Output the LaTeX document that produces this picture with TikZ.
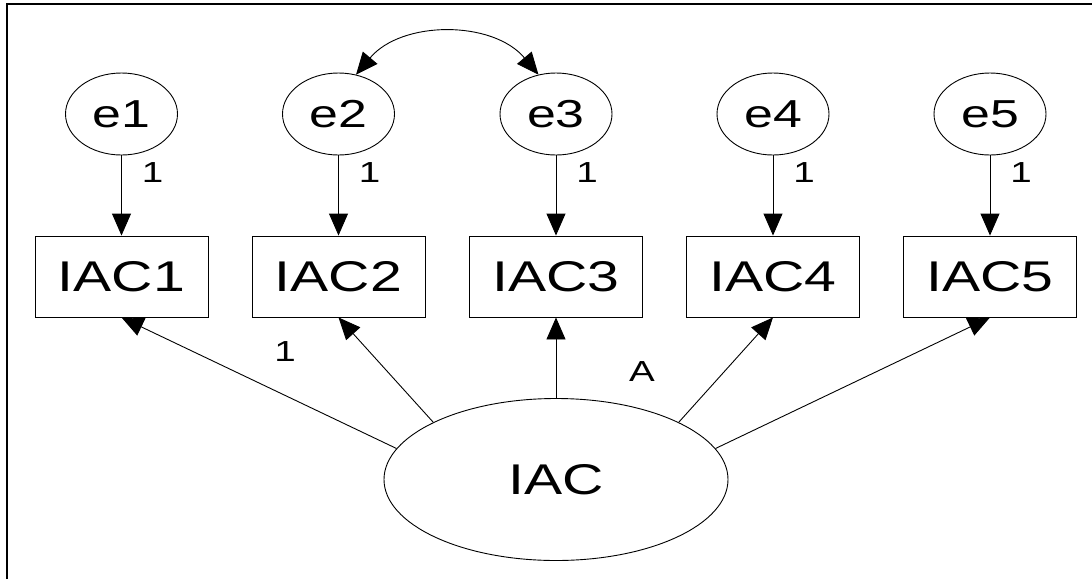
\documentclass[tikz,border=0pt]{standalone}
\usepackage{fontspec}
\setmainfont{Liberation Sans}
\usepackage{graphicx}
\usetikzlibrary{shapes.geometric,arrows.meta}
% text in this diagram is set slightly wide
\newcommand\widetxt[1]{\scalebox{1.33}[1]{#1}}
\begin{document}
\begin{tikzpicture}[x=1pt,y=1pt,
  err/.style={ellipse,draw,line width=0.9pt,minimum width=112pt,minimum height=82pt,inner sep=0pt,font=\fontsize{39}{39}\selectfont},
  obs/.style={rectangle,draw,line width=0.9pt,minimum width=173pt,minimum height=81pt,inner sep=0pt,font=\fontsize{43}{43}\selectfont},
  lat/.style={ellipse,draw,line width=0.9pt,minimum width=344pt,minimum height=162pt,inner sep=0pt,font=\fontsize{43}{43}\selectfont},
  tip/.tip={Triangle[length=22pt,width=19pt]},
  regpath/.style={-tip,line width=0.9pt},
  covpath/.style={tip-tip,line width=0.9pt},
  lbl/.style={inner sep=0pt,font=\fontsize{29}{29}\selectfont}]
\useasboundingbox (0,0) rectangle (1092,-579);
% frame lines (top and left)
\draw[line width=1.8pt] (7,-579) -- (7,-4) -- (1092,-4);
% error terms, indicators and fixed loadings
\foreach \i/\x in {1/121.5,2/338.5,3/556,4/773,5/990}{
  \node[err] (e\i) at (\x,-114) {\widetxt{e\i}};
  \node[obs] (v\i) at (\x,-276.5) {\widetxt{IAC\i}};
  \draw[regpath] (e\i.south) -- (v\i.north);
  \node[lbl] (w\i) at (\x+31,-173) {\widetxt{1}};
}
% latent factor
\node[lat] (iac) at (556,-479.5) {\widetxt{IAC}};
\draw[regpath] (iac.169) -- (v1.south);
\draw[regpath] (iac.155) -- (v2.south);
\draw[regpath] (iac.north) -- (v3.south);
\draw[regpath] (iac.25) -- (v4.south);
\draw[regpath] (iac.11) -- (v5.south);
\node[lbl] (l1) at (285,-352) {\widetxt{1}};
\node[lbl] (lA) at (642,-372) {\widetxt{A}};
% covariance between e2 and e3
\draw[covpath] (e2.66) to[bend left=50] (e3.114);
\end{tikzpicture}
\end{document}
